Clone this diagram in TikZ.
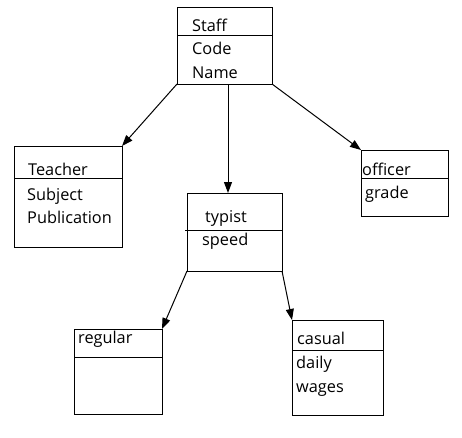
\documentclass[tikz,border=0pt]{standalone}
\usepackage{fontspec}
\setmainfont{Open Sans}
\usepackage{tikz}
\usetikzlibrary{positioning,arrows.meta}

\tikzset{
  classbox/.style={draw, line width=1pt, rectangle, outer sep=0pt, inner sep=0pt},
  member/.style={anchor=base west, inner sep=0pt, font=\fontsize{16.3}{19}\selectfont},
  inherit/.style={-{Triangle[length=11pt,width=8pt]}, line width=1pt},
}

\begin{document}
\begin{tikzpicture}[x=1pt, y=-1pt]
    \useasboundingbox (0,0) rectangle (462,437);

    % class boxes
    \node[classbox, minimum width=95pt, minimum height=77pt] (staff) at (224.5,45.5) {};
    \node[classbox, minimum width=108pt, minimum height=101pt, below left=62pt and 55pt of staff.south west] (teacher) {};
    \node[classbox, minimum width=95pt, minimum height=78pt, below=109pt of staff.south, xshift=10pt] (typist) {};
    \node[classbox, minimum width=87pt, minimum height=66pt, below right=66pt and 89pt of staff.south east] (officer) {};
    \node[classbox, minimum width=88pt, minimum height=85pt, below left=58pt and 25pt of typist.south west] (regular) {};
    \node[classbox, minimum width=91pt, minimum height=95pt, below right=49pt and 10pt of typist.south east] (casual) {};

    % dividers
    \draw[line width=1pt] ([yshift=-28pt]staff.north west)   -- ([yshift=-28pt]staff.north east);
    \draw[line width=1pt] ([yshift=-32pt]teacher.north west) -- ([yshift=-32pt]teacher.north east);
    \draw[line width=1pt] ([yshift=-37pt, xshift=-2pt]typist.north west) -- ([yshift=-37pt]typist.north east);
    \draw[line width=1pt] ([yshift=-28pt]officer.north west) -- ([yshift=-28pt]officer.north east);
    \draw[line width=1pt] ([yshift=-28pt]regular.north west) -- ([yshift=-28pt]regular.north east);
    \draw[line width=1pt] ([yshift=-30pt]casual.north west)  -- ([yshift=-30pt]casual.north east);

    % names and attributes
    \node[member] (staff_name)   at ([xshift=15pt, yshift=-24pt]staff.north west) {Staff};
    \node[member] (staff_code)   at ([xshift=15pt, yshift=-47pt]staff.north west) {Code};
    \node[member] (staff_nm)     at ([xshift=15pt, yshift=-71pt]staff.north west) {Name};

    \node[member] (teacher_name) at ([xshift=14pt, yshift=-29pt]teacher.north west) {Teacher};
    \node[member] (teacher_subj) at ([xshift=13pt, yshift=-54pt]teacher.north west) {Subject};
    \node[member] (teacher_publ) at ([xshift=13pt, yshift=-77pt]teacher.north west) {Publication};

    \node[member] (typist_name)  at ([xshift=18pt, yshift=-29pt]typist.north west) {typist};
    \node[member] (typist_speed) at ([xshift=15pt, yshift=-52pt]typist.north west) {speed};

    \node[member] (officer_name) at ([xshift=1pt, yshift=-25pt]officer.north west) {officer};
    \node[member] (officer_grd)  at ([xshift=4pt, yshift=-48pt]officer.north west) {grade};

    \node[member] (regular_name) at ([xshift=4pt, yshift=-14pt]regular.north west) {regular};

    \node[member] (casual_name)  at ([xshift=5pt, yshift=-24pt]casual.north west) {casual};
    \node[member] (casual_daily) at ([xshift=4pt, yshift=-48pt]casual.north west) {daily};
    \node[member] (casual_wages) at ([xshift=4pt, yshift=-72pt]casual.north west) {wages};

    % the connection
    \draw[inherit] (staff.south west) -- (teacher.north east);
    \draw[inherit] ([xshift=3.5pt]staff.south) -- ([xshift=-6.5pt]typist.north);
    \draw[inherit] (staff.south east) -- (officer.north west);
    \draw[inherit] (typist.south west) -- (regular.north east);
    \draw[inherit] (typist.south east) -- (casual.north west);

\end{tikzpicture}
\end{document}
